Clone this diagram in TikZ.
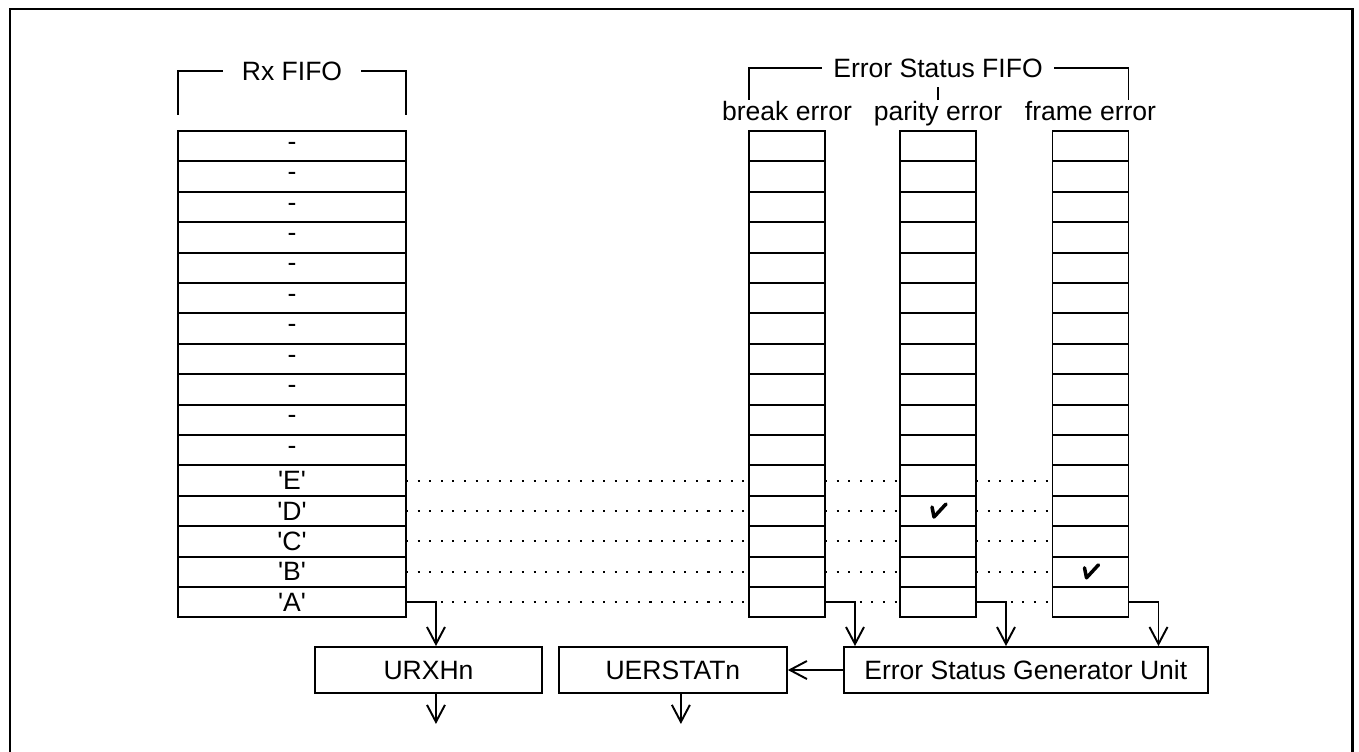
\documentclass[tikz,border=0pt]{standalone}
\usepackage{fontspec}
\setmainfont{Liberation Sans}
\usetikzlibrary{arrows.meta,positioning}

\newcommand{\sq}[1]{\textquotesingle#1\textquotesingle}

\begin{document}
\begin{tikzpicture}[
  x=0.02cm,y=-0.02cm,
  font=\fontsize{15.1}{17}\selectfont,
  cell/.style={draw,line width=1.1pt,minimum height=0.608cm,inner sep=0pt,outer sep=0pt},
  rxcell/.style={cell,minimum width=4.56cm},
  errcell/.style={cell,minimum width=1.52cm},
  unit/.style={draw,line width=1.1pt,minimum height=0.92cm,inner sep=0pt},
  title/.style={anchor=base,inner ysep=0pt},
  arrow/.style={-{Straight Barb[length=0.34cm,width=0.36cm]},line width=1.1pt},
  link/.style={line width=1.1pt},
  dots/.style={line width=1.2pt,dash pattern=on 1.2pt off 5.4pt},
  tick/.style={line width=2pt,line join=round,line cap=round},
  frame/.style={line width=1.7pt},
  node distance=0.3cm
]
\useasboundingbox (0,0) rectangle (1359,751);
\draw[frame] (10,760) -- (10,9) -- (1352,9) -- (1352,760);

% Rx FIFO
\foreach \lbl [count=\i] in {-,-,-,-,-,-,-,-,-,-,-,\sq{E},\sq{D},\sq{C},\sq{B},\sq{A}}
  \node[rxcell] (rx\i) at (292,{115.8+30.4*\i}) {\lbl};
\node[title,inner xsep=0.38cm] (rxlbl) at (292,80) {Rx FIFO};
\draw[link] (rxlbl.west) -| ([yshift=0.32cm]rx1.north west);
\draw[link] (rxlbl.east) -| ([yshift=0.32cm]rx1.north east);

% Error Status FIFO
\foreach \col/\x in {brk/787,par/938,frm/1090.5}
  \foreach \i in {1,...,16}
    \node[errcell] (\col\i) at (\x,{115.8+30.4*\i}) {};
\node[title] (brklbl) at (787,120) {break error};
\node[title] (parlbl) at (938,120) {parity error};
\node[title] (frmlbl) at (1090.5,120) {frame error};
\node[title,inner xsep=0.22cm] (esflbl) at (938,77) {Error Status FIFO};
\draw[link] (esflbl.west) -| ([yshift=0.62cm]brk1.north west);
\draw[link] (esflbl.east) -| ([yshift=0.62cm]frm1.north east);
\draw[link] ([yshift=0.62cm]par1.north) -- ++(0,-13);

% rows that line up
\foreach \i in {12,...,16}{
  \draw[dots] (rx\i.east) -- (brk\i.west);
  \draw[dots] (brk\i.east) -- (par\i.west);
  \draw[dots] (par\i.east) -- (frm\i.west);
}
\draw[tick] (par13.center) ++(-6,-4) -- ++(2,10) -- ++(12,-13);
\draw[tick] (frm15.center) ++(-6,-4) -- ++(2,10) -- ++(12,-13);

% registers
\node[unit,minimum width=4.54cm] (urxh) at (428.5,670) {URXHn};
\node[unit,minimum width=4.56cm,right=of urxh] (uerstat) {UERSTATn};
\node[unit,minimum width=7.28cm,right=1.1cm of uerstat] (egu) {Error Status Generator Unit};

\draw[arrow] (rx16.east) -- ++(30,0) coordinate (rxturn) -- (rxturn |- urxh.north);
\foreach \col in {brk,par,frm}
  \draw[arrow] (\col16.east) -- ++(30,0) coordinate (t\col) -- (t\col |- egu.north);
\draw[arrow] (egu.west) -- (uerstat.east);
\coordinate (rxout) at ([yshift=-0.6cm]urxh.south -| rxturn);
\draw[arrow] (urxh.south -| rxturn) -- (rxout);
\coordinate (statout) at ([xshift=0.16cm,yshift=-0.6cm]uerstat.south);
\draw[arrow] ([xshift=0.16cm]uerstat.south) -- (statout);
\end{tikzpicture}
\end{document}
